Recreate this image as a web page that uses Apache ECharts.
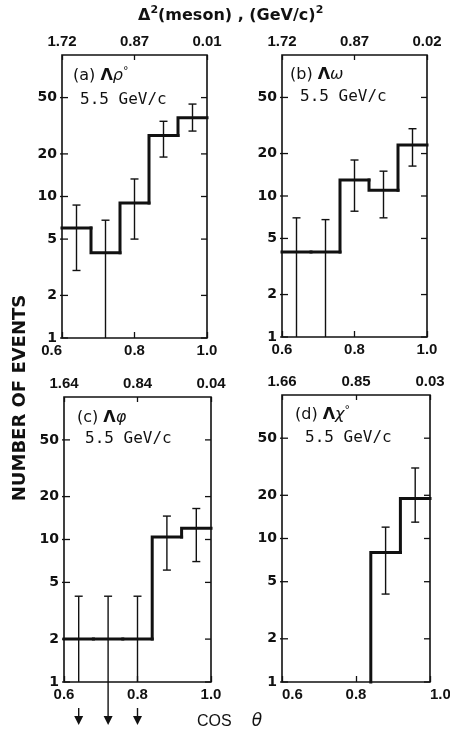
<!DOCTYPE html>
<html>
<head>
<meta charset="utf-8">
<script src="https://cdn.jsdelivr.net/npm/echarts@6/dist/echarts.min.js"></script>
<style>
  html, body { margin: 0; padding: 0; background: #fff; }
  #chart { width: 450px; height: 746px; }
</style>
</head>
<body>
<div id="chart"></div>
<script>
// cos(theta) binning shared by all four panels
const cosTicks = [0.6, 0.8, 1.0];
const binEdges = [0.6, 0.68, 0.76, 0.84, 0.92, 1.0];
const binCenters = [0.64, 0.72, 0.80, 0.88, 0.96];
const eventTicks = [1, 2, 5, 10, 20, 50];

const panelTags = ['(a)', '(b)', '(c)', '(d)'];
const mesonNames = [['ρ', '°'], ['ω', ''], ['φ', ''], ['χ', '°']];
const beamMomentum = '5.5 GeV/c';

// Δ²(meson) values at cos θ = 0.6, 0.8, 1.0
const delta2A = ['1.72', '0.87', '0.01'];
const delta2B = ['1.72', '0.87', '0.02'];
const delta2C = ['1.64', '0.84', '0.04'];
const delta2D = ['1.66', '0.85', '0.03'];

// (a) Λρ°
const countsA = [6, 4, 9, 27, 36];
const errHiA = [8.7, 6.8, 13.3, 34, 45];
const errLoA = [3, 1, 5, 19, 29];
// (b) Λω
const countsB = [4, 4, 13, 11, 23];
const errHiB = [7, 6.8, 18, 15, 30];
const errLoB = [1, 1, 7.8, 7, 16.3];
// (c) Λφ
const countsC = [2, 2, 2, 10.4, 12];
const errHiC = [4, 4, 4, 14.6, 16.5];
const errLoC = [1, 1, 1, 6.1, 7];
const upperLimitBinsC = [0, 1, 2];
// (d) Λχ°
const countsD = [0, 0, 0, 8, 19];
const errHiD = [null, null, null, 12, 31];
const errLoD = [null, null, null, 4.1, 13];

const panels = [
  { delta2: delta2A, counts: countsA, hi: errHiA, lo: errLoA },
  { delta2: delta2B, counts: countsB, hi: errHiB, lo: errLoB },
  { delta2: delta2C, counts: countsC, hi: errHiC, lo: errLoC },
  { delta2: delta2D, counts: countsD, hi: errHiD, lo: errLoD }
];

const INK = '#111';
const numFont = '"Liberation Sans", Arial, sans-serif';
const X_MIN = cosTicks[0], X_MAX = cosTicks[cosTicks.length - 1];
const Y_MIN = 1, Y_MAX = 100;

const grids = [
  { left: 62, top: 55, width: 145, height: 283 },
  { left: 282, top: 55, width: 145, height: 282 },
  { left: 64, top: 397, width: 147, height: 285 },
  { left: 282, top: 395, width: 148, height: 287 }
].map(g => Object.assign(g, {
  show: true, borderColor: INK, borderWidth: 1.6, backgroundColor: 'transparent',
  containLabel: false, outerBoundsMode: 'none'
}));

// bottom-label alignment at the panel edges
const minAlign = ['right', 'center', 'center', 'left'];
const maxAlign = ['center', 'center', 'center', 'left'];

const xAxes = [];
const yAxes = [];
panels.forEach((p, i) => {
  xAxes.push({
    gridIndex: i, type: 'value', position: 'bottom',
    min: X_MIN, max: X_MAX, interval: 0.2,
    axisLine: { show: false }, splitLine: { show: false },
    axisTick: { show: true, inside: true, length: 6, lineStyle: { color: INK, width: 1.3 } },
    axisLabel: {
      margin: 5, color: INK, fontFamily: numFont, fontWeight: 'bold', fontSize: 15,
      showMinLabel: true, showMaxLabel: true, hideOverlap: false,
      alignMinLabel: minAlign[i], alignMaxLabel: maxAlign[i],
      formatter: v => v.toFixed(1)
    }
  });
  xAxes.push({
    gridIndex: i, type: 'value', position: 'top',
    min: X_MIN, max: X_MAX, interval: 0.2,
    axisLine: { show: false }, splitLine: { show: false },
    axisTick: { show: true, inside: true, length: 5, lineStyle: { color: INK, width: 1.3 } },
    axisLabel: {
      margin: 6, color: INK, fontFamily: numFont, fontWeight: 'bold', fontSize: 15,
      showMinLabel: true, showMaxLabel: true, hideOverlap: false,
      formatter: v => p.delta2[Math.round((v - X_MIN) / 0.2)]
    }
  });
  yAxes.push({
    gridIndex: i, type: 'log', logBase: 10, min: Y_MIN, max: Y_MAX,
    axisLine: { show: false }, axisTick: { show: false },
    axisLabel: { show: false }, splitLine: { show: false }
  });
});

const series = [];
panels.forEach((p, i) => {
  const xIdx = i * 2;

  // y ticks on both sides plus their labels
  series.push({
    type: 'custom', xAxisIndex: xIdx, yAxisIndex: i, clip: false, silent: true,
    data: eventTicks.map(v => [v]),
    renderItem(params, api) {
      const v = api.value(0);
      const l = api.coord([X_MIN, v]);
      const r = api.coord([X_MAX, v]);
      const st = { stroke: INK, lineWidth: 1.3 };
      return {
        type: 'group', children: [
          { type: 'line', shape: { x1: l[0] - 2, y1: l[1], x2: l[0] + 6, y2: l[1] }, style: st },
          { type: 'line', shape: { x1: r[0] - 6, y1: r[1], x2: r[0], y2: r[1] }, style: st },
          { type: 'text', style: {
              text: String(v), x: l[0] - 5, y: l[1], align: 'right', verticalAlign: 'middle',
              fill: INK, font: 'bold 14px "DejaVu Sans", sans-serif' } }
        ]
      };
    }
  });

  // histogram steps
  series.push({
    type: 'custom', xAxisIndex: xIdx, yAxisIndex: i, clip: false, silent: true,
    data: p.counts.map((c, k) => [binEdges[k], binEdges[k + 1], c, k > 0 ? p.counts[k - 1] : -1]),
    renderItem(params, api) {
      const lo = api.value(0), hi = api.value(1), c = api.value(2), prev = api.value(3);
      const pts = [];
      if (prev >= 0 && (c > 0 || prev > 0)) {
        pts.push(api.coord([lo, prev > 0 ? prev : Y_MIN]));
        pts.push(api.coord([lo, c > 0 ? c : Y_MIN]));
      }
      if (c > 0) {
        if (!pts.length) pts.push(api.coord([lo, c]));
        pts.push(api.coord([hi, c]));
      }
      if (pts.length < 2) return null;
      return {
        type: 'polyline', shape: { points: pts },
        style: { stroke: INK, lineWidth: 3, fill: null, lineJoin: 'miter', lineCap: 'square' }
      };
    }
  });

  // error bars
  series.push({
    type: 'custom', xAxisIndex: xIdx, yAxisIndex: i, clip: false, silent: true,
    data: binCenters.map((x, k) => [x, p.lo[k], p.hi[k]]),
    renderItem(params, api) {
      const x = api.value(0), lo = api.value(1), hi = api.value(2);
      if (!(hi > 0)) return null;
      const top = api.coord([x, hi]);
      const bot = api.coord([x, lo > Y_MIN ? lo : Y_MIN]);
      const st = { stroke: INK, lineWidth: 1.4 };
      const kids = [
        { type: 'line', shape: { x1: top[0], y1: top[1], x2: bot[0], y2: bot[1] }, style: st },
        { type: 'line', shape: { x1: top[0] - 4, y1: top[1], x2: top[0] + 4, y2: top[1] }, style: st }
      ];
      if (lo > Y_MIN) {
        kids.push({ type: 'line', shape: { x1: bot[0] - 4, y1: bot[1], x2: bot[0] + 4, y2: bot[1] }, style: st });
      }
      return { type: 'group', children: kids };
    }
  });
});

// upper-limit arrows below panel (c)
series.push({
  type: 'custom', xAxisIndex: 4, yAxisIndex: 2, clip: false, silent: true,
  data: upperLimitBinsC.map(k => [binCenters[k], k]),
  renderItem(params, api) {
    const x = api.value(0);
    const base = api.coord([x, Y_MIN]);
    const startY = params.dataIndex === 1 ? base[1] : base[1] + 26;
    return {
      type: 'group', children: [
        { type: 'line', shape: { x1: base[0], y1: startY, x2: base[0], y2: base[1] + 36 },
          style: { stroke: INK, lineWidth: 1.4 } },
        { type: 'polygon', shape: { points: [[base[0] - 4.5, base[1] + 34], [base[0] + 4.5, base[1] + 34], [base[0], base[1] + 43]] },
          style: { fill: INK } }
      ]
    };
  }
});

const labelPos = [[73, 76, 80, 101], [290, 75, 300, 98], [77, 418, 85, 440], [295, 415, 305, 439]];
const graphics = [];
panels.forEach((p, i) => {
  const [tx, ty, mx, my] = labelPos[i];
  graphics.push({
    type: 'text', left: tx, top: ty - 10,
    style: {
      text: '{t|' + panelTags[i] + ' }{L|Λ}{g|' + mesonNames[i][0] + '}{s|' + mesonNames[i][1] + '}',
      rich: {
        t: { font: '16px "DejaVu Sans", sans-serif', fill: INK, lineHeight: 19 },
        L: { font: 'bold 16px "DejaVu Sans", sans-serif', fill: INK, lineHeight: 19 },
        g: { font: 'italic 16px "DejaVu Sans", sans-serif', fill: INK, lineHeight: 19 },
        s: { font: '11px "DejaVu Sans", sans-serif', fill: INK, verticalAlign: 'top', lineHeight: 11 }
      }
    }
  });
  graphics.push({
    type: 'text', left: mx, top: my - 9,
    style: { text: beamMomentum, font: '16px "DejaVu Sans Mono", monospace', fill: INK }
  });
});

graphics.push({
  type: 'text', left: 138, top: 5,
  style: {
    text: '{b|Δ}{s|2}{b|(meson) , (GeV/c)}{s|2}',
    rich: {
      b: { font: 'bold 16px "DejaVu Sans", sans-serif', fill: INK, lineHeight: 21 },
      s: { font: 'bold 11px "DejaVu Sans", sans-serif', fill: INK, verticalAlign: 'top', lineHeight: 11 }
    }
  }
});
graphics.push({
  type: 'text', x: 20, y: 398, rotation: Math.PI / 2,
  style: {
    text: 'NUMBER OF EVENTS', align: 'center', verticalAlign: 'middle',
    font: 'bold 18px "DejaVu Sans", sans-serif', fill: INK
  }
});
graphics.push({
  type: 'text', left: 197, top: 713,
  style: {
    text: '{c|COS}{t|θ}',
    rich: {
      c: { font: '16px "Liberation Sans", Arial, sans-serif', fill: INK, padding: [0, 20, 0, 0] },
      t: { font: 'italic 17px "DejaVu Sans", sans-serif', fill: INK }
    }
  }
});

const chart = echarts.init(document.getElementById('chart'), null, { renderer: 'canvas' });
chart.setOption({
  animation: false,
  backgroundColor: '#fff',
  grid: grids,
  xAxis: xAxes,
  yAxis: yAxes,
  series: series,
  graphic: graphics
});
</script>
</body>
</html>
